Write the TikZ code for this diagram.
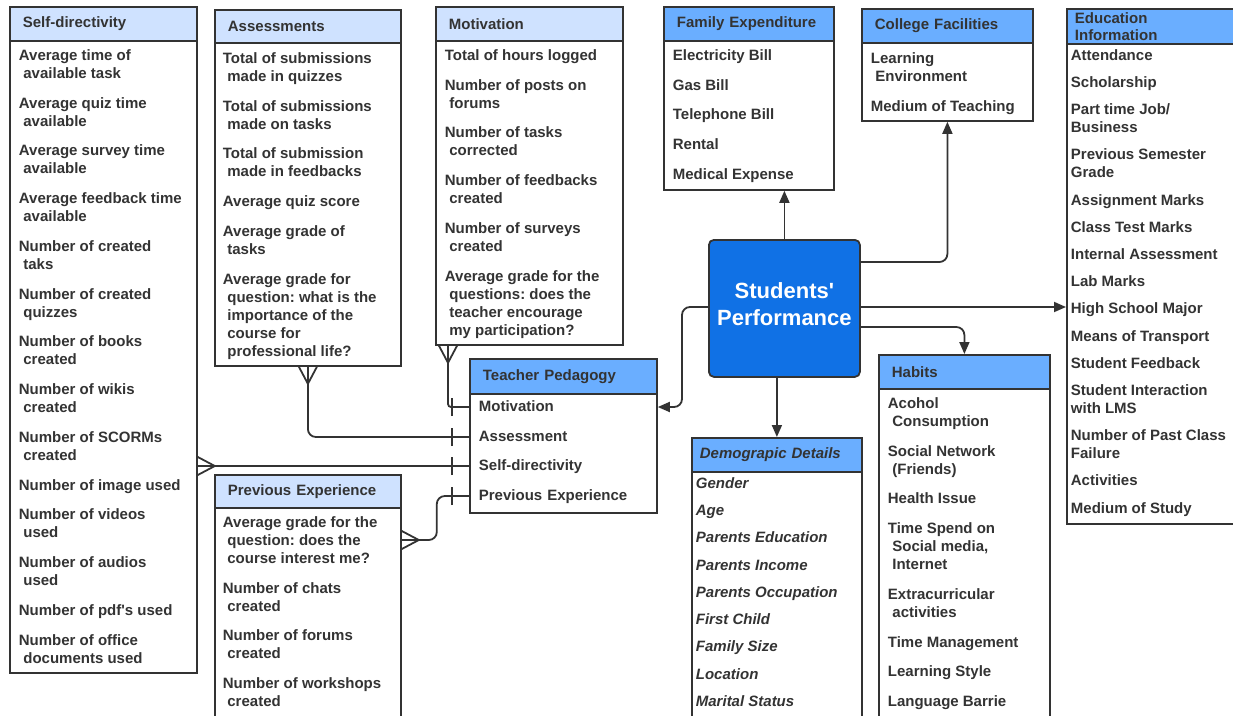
\documentclass[tikz,border=0pt]{standalone}
\usepackage{fontspec}
\setmainfont{Liberation Sans}
\usetikzlibrary{arrows.meta}
\usetikzlibrary{decorations.markings}
\definecolor{ink}{HTML}{333333}
\definecolor{paleblue}{HTML}{CFE2FF}
\definecolor{midblue}{HTML}{6AAEFF}
\definecolor{coreblue}{HTML}{1071E5}
\frenchspacing
\newcommand\itemfont{\fontsize{15}{18}\selectfont\bfseries}
\newcommand\cont{\hspace*{4.5pt}}
\tikzset{
  every picture/.style={
    line width=1.8pt, draw=ink,
    >={Triangle[length=12pt, width=10pt]}
  },
  head/.style={
    draw=ink, anchor=north west, inner xsep=13pt, inner ysep=0pt,
    align=left, font=\itemfont, text=ink
  },
  frame/.style={
    draw=ink, fill=white, anchor=north west, inner sep=0pt
  },
  items/.style={
    anchor=north west, inner sep=0pt, align=left,
    font=\itemfont, text=ink
  },
  row/.style={
    anchor=west, inner xsep=9pt, inner ysep=0pt, text width=169pt,
    align=left, font=\itemfont, text=ink, text height=11pt, text depth=3pt
  },
  link/.style={
    draw=ink, rounded corners=8pt, ->
  },
  erlink/.style={
    draw=ink, rounded corners=8pt,
    postaction={decorate, decoration={markings,
      mark=at position 17pt with {\draw (0,0) -- (-17pt,9pt) (0,0) -- (-17pt,-9pt);},
      mark=at position -17pt with {\draw (0,-9pt) -- (0,9pt);}}}
  }
}
\begin{document}
\begin{tikzpicture}[x=1pt, y=-1pt]
  \useasboundingbox (0,0) rectangle (1233,715);

  % Self-directivity
  \node[frame, minimum width=187pt, minimum height=632pt] (sd) at (9,40) {};
  \node[head, fill=paleblue, text width=161pt, minimum height=34pt] (sdH) at (9,6) {Self-directivity};
  \node[items] (sdI) at (18,48.5) {Average time of\\\cont available task\\[11.75pt]
    Average quiz time\\\cont available\\[11.75pt]
    Average survey time\\\cont available\\[11.75pt]
    Average feedback time\\\cont available\\[11.75pt]
    Number of created\\\cont taks\\[11.75pt]
    Number of created\\\cont quizzes\\[11.75pt]
    Number of books\\\cont created\\[11.75pt]
    Number of wikis\\\cont created\\[11.75pt]
    Number of SCORMs\\\cont created\\[11.75pt]
    Number of image used\\[11.75pt]
    Number of videos\\\cont used\\[11.75pt]
    Number of audios\\\cont used\\[11.75pt]
    Number of pdf\textquotesingle s used\\[11.75pt]
    Number of office\\\cont documents used};

  % Assessments
  \node[frame, minimum width=186pt, minimum height=323pt] (as) at (214,42) {};
  \node[head, fill=paleblue, text width=160pt, minimum height=33pt] (asH) at (214,9) {Assessments};
  \node[items] (asI) at (222,51.5) {Total of submissions\\\cont made in quizzes\\[11.75pt]
    Total of submissions\\\cont made on tasks\\[11.75pt]
    Total of submission\\\cont made in feedbacks\\[11.75pt]
    Average quiz score\\[11.75pt]
    Average grade of\\\cont tasks\\[11.75pt]
    Average grade for\\\cont question: what is the\\\cont importance of the\\\cont course for\\\cont professional life?};

  % Motivation
  \node[frame, minimum width=187pt, minimum height=304pt] (mo) at (435,40) {};
  \node[head, fill=paleblue, text width=161pt, minimum height=34pt] (moH) at (435,6) {Motivation};
  \node[items] (moI) at (444,48.5) {Total of hours logged\\[11.75pt]
    Number of posts on\\\cont forums\\[11.75pt]
    Number of tasks\\\cont corrected\\[11.75pt]
    Number of feedbacks\\\cont created\\[11.75pt]
    Number of surveys\\\cont created\\[11.75pt]
    Average grade for the\\\cont questions: does the\\\cont teacher encourage\\\cont my participation?};

  % Family Expenditure
  \node[frame, minimum width=170pt, minimum height=149pt] (fe) at (663,40) {};
  \node[head, fill=midblue, text width=144pt, minimum height=34pt] (feH) at (663,6) {Family Expenditure};
  \node[items] (feI) at (672,48.5) {Electricity Bill\\[11.75pt]Gas Bill\\[11.75pt]
    Telephone Bill\\[11.75pt]Rental\\[11.75pt]Medical Expense};

  % College Facilities
  \node[frame, minimum width=171pt, minimum height=78pt] (cf) at (861,42) {};
  \node[head, fill=midblue, text width=145pt, minimum height=34pt] (cfH) at (861,8) {College Facilities};
  \node[items] (cfI) at (870,51.5) {Learning\\\cont Environment\\[11.75pt]Medium of Teaching};

  % Education Information
  \node[frame, minimum width=175pt, minimum height=480pt] (ei) at (1066,43) {};
  \node[head, fill=midblue, inner xsep=8pt, text width=159pt, minimum height=35pt,
    font=\fontsize{15}{17}\selectfont\bfseries] (eiH) at (1066,8) {Education\\Information};
  \node[items] (eiI) at (1070,48.5) {Attendance\\[9.2pt]Scholarship\\[9.2pt]
    Part time Job/\\Business\\[9.2pt]Previous Semester\\Grade\\[9.2pt]
    Assignment Marks\\[9.2pt]Class Test Marks\\[9.2pt]Internal Assessment\\[9.2pt]
    Lab Marks\\[9.2pt]High School Major\\[9.2pt]Means of Transport\\[9.2pt]
    Student Feedback\\[9.2pt]Student Interaction\\with LMS\\[9.2pt]
    Number of Past Class\\Failure\\[9.2pt]Activities\\[9.2pt]Medium of Study};

  % Students' Performance
  \node[draw=ink, fill=coreblue, rounded corners=5pt, anchor=north west,
    minimum width=151pt, minimum height=137pt] (sp) at (708,239) {};
  \node[align=center, text=white, font=\fontsize{22}{27}\selectfont\bfseries]
    (spT) at ([yshift=4pt]sp.center) {Students\textquotesingle\\Performance};

  % Teacher Pedagogy
  \node[frame, minimum width=187pt, minimum height=119pt] (tp) at (469,393) {};
  \node[head, fill=midblue, text width=161pt, minimum height=35pt] (tpH) at (469,358) {Teacher Pedagogy};
  \node[row] (tpMot) at (469,407) {Motivation};
  \node[row] (tpAss) at (469,437) {Assessment};
  \node[row] (tpSelf) at (469,466) {Self-directivity};
  \node[row] (tpPrev) at (469,496) {Previous Experience};

  % Demograpic Details
  \node[frame, minimum width=170pt, minimum height=250pt] (dd) at (691,471) {};
  \node[head, fill=midblue, inner xsep=8pt, text width=154pt, minimum height=34pt,
    font=\itemfont\itshape] (ddH) at (691,437) {Demograpic Details};
  \node[items, font=\itemfont\itshape] (ddI) at (695,476.5) {Gender\\[9.25pt]Age\\[9.25pt]
    Parents Education\\[9.25pt]Parents Income\\[9.25pt]Parents Occupation\\[9.25pt]
    First Child\\[9.25pt]Family Size\\[9.25pt]Location\\[9.25pt]Marital Status};

  % Habits
  \node[frame, minimum width=171pt, minimum height=333pt] (hb) at (878,388) {};
  \node[head, fill=midblue, text width=145pt, minimum height=34pt] (hbH) at (878,354) {Habits};
  \node[items] (hbI) at (887,396.5) {Acohol\\\cont Consumption\\[11.75pt]
    Social Network\\\cont (Friends)\\[11.75pt]
    Health Issue\\[11.75pt]
    Time Spend on\\\cont Social media,\\\cont Internet\\[11.75pt]
    Extracurricular\\\cont activities\\[11.75pt]
    Time Management\\[11.75pt]Learning Style\\[11.75pt]Language Barrie};

  % Previous Experience
  \node[frame, minimum width=186pt, minimum height=214pt] (pe) at (214,507) {};
  \node[head, fill=paleblue, text width=160pt, minimum height=33pt] (peH) at (214,474) {Previous Experience};
  \node[items] (peI) at (222,515.5) {Average grade for the\\\cont question: does the\\\cont course interest me?\\[11.75pt]
    Number of chats\\\cont created\\[11.75pt]
    Number of forums\\\cont created\\[11.75pt]
    Number of workshops\\\cont created};

  % arrows out of the centre
  \draw[link] (sp.north) -- (sp.north |- fe.south);
  \draw[link] (sp.east |- 0,262) -| (cf.south);
  \draw[link] (sp.east |- 0,307) -- (ei.west |- 0,307);
  \draw[link] (sp.east |- 0,327) -| (hbH.north);
  \draw[link] (sp.south -| ddH.north) -- (ddH.north);
  \draw[link] (sp.west |- 0,307) -- ++(-26,0) |- (tpMot.east);

  % one-to-many links
  \draw[erlink, rounded corners=3pt] (mo.south -| 448,0) |- (tpMot.west);
  \draw[erlink] (as.south) |- (tpAss.west);
  \draw[erlink] (sd.east |- tpSelf.west) -- (tpSelf.west);
  \draw[erlink] (pe.east |- 0,540) -- ++(35,0) |- (tpPrev.west);
\end{tikzpicture}
\end{document}
